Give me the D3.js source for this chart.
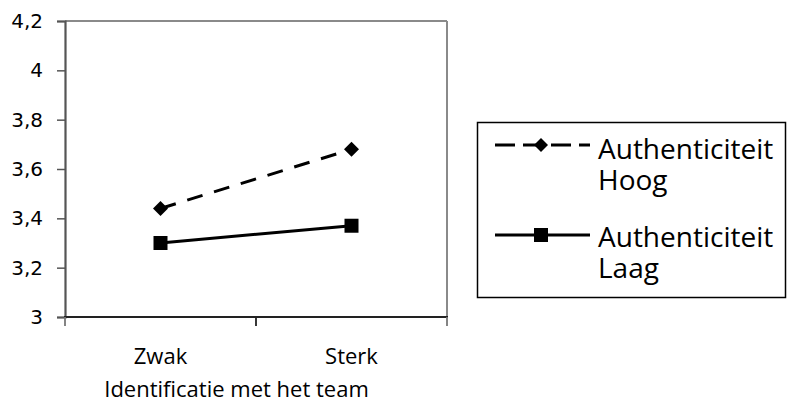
<!DOCTYPE html>
<html>
<head>
<meta charset="utf-8">
<script src="https://cdn.jsdelivr.net/npm/d3@7"></script>
<style>
  html, body { margin: 0; padding: 0; background: #fff; }
  svg { display: block; }
</style>
</head>
<body>
<svg id="chart" width="787" height="404"></svg>
<script>
// Categories on the x axis and the two series (mean scores)
const categories = ["Zwak", "Sterk"];
const hoogValues = [3.44, 3.68];
const laagValues = [3.30, 3.37];
const seriesNames = [["Authenticiteit", "Hoog"], ["Authenticiteit", "Laag"]];
const yTickValues = [3, 3.2, 3.4, 3.6, 3.8, 4, 4.2];
const xTitle = "Identificatie met het team";

const svg = d3.select("#chart");
const plot = { left: 65, right: 447, top: 21, bottom: 317 };

const x = d3.scaleBand().domain(categories).range([plot.left, plot.right]).padding(0);
const y = d3.scaleLinear().domain([3, 4.2]).range([plot.bottom, plot.top]);

const nl = d3.formatLocale({ decimal: ",", thousands: ".", grouping: [3], currency: ["€", ""] });
const fmt = v => nl.format("~g")(+v.toFixed(1));

// Plot frame: grey top/right, darker left axis and bottom axis
svg.append("line").attr("x1", plot.left).attr("x2", plot.right).attr("y1", plot.top).attr("y2", plot.top)
  .attr("stroke", "#8a8a8a").attr("stroke-width", 2);
svg.append("line").attr("x1", plot.right).attr("x2", plot.right).attr("y1", plot.top).attr("y2", plot.bottom)
  .attr("stroke", "#8a8a8a").attr("stroke-width", 2);

// Y axis
const yAxis = d3.axisLeft(y).tickValues(yTickValues).tickSize(8).tickPadding(14).tickFormat(fmt);
const gy = svg.append("g").attr("transform", `translate(${plot.left},0)`).call(yAxis);
gy.select(".domain").attr("stroke", "#555").attr("stroke-width", 2.2);
gy.selectAll(".tick line").attr("stroke", "#555").attr("stroke-width", 1.5);
gy.selectAll(".tick text").attr("font-family", "'DejaVu Sans', Verdana, sans-serif")
  .attr("font-size", 20).attr("fill", "#000");

// X axis: ticks on category boundaries
const boundaries = [plot.left, plot.left + x.bandwidth(), plot.right];
svg.append("line").attr("x1", plot.left - 1).attr("x2", plot.right + 1).attr("y1", plot.bottom).attr("y2", plot.bottom)
  .attr("stroke", "#222").attr("stroke-width", 2);
svg.selectAll(".xtick").data(boundaries).enter().append("line")
  .attr("x1", d => d).attr("x2", d => d).attr("y1", plot.bottom).attr("y2", plot.bottom + 9)
  .attr("stroke", (d, i) => i === 1 ? "#222" : "#777").attr("stroke-width", 1.8);

const labelFont = "'Open Sans', 'Noto Sans', sans-serif";
svg.selectAll(".xlabel").data(categories).enter().append("text")
  .attr("x", d => x(d) + x.bandwidth() / 2).attr("y", 364)
  .attr("text-anchor", "middle").attr("font-family", labelFont).attr("font-size", 22)
  .text(d => d);
svg.append("text").attr("x", 236.5).attr("y", 397).attr("text-anchor", "middle")
  .attr("font-family", labelFont).attr("font-size", 22).text(xTitle);

// Series lines
const line = d3.line().x((d, i) => x(categories[i]) + x.bandwidth() / 2).y(d => y(d));
svg.append("path").datum(hoogValues).attr("d", line).attr("fill", "none")
  .attr("stroke", "#000").attr("stroke-width", 3).attr("stroke-dasharray", "16,12");
svg.append("path").datum(laagValues).attr("d", line).attr("fill", "none")
  .attr("stroke", "#000").attr("stroke-width", 3);

const diamond = (cx, cy, r) => `M${cx},${cy - r}L${cx + r},${cy}L${cx},${cy + r}L${cx - r},${cy}Z`;
svg.selectAll(".mh").data(hoogValues).enter().append("path")
  .attr("d", (d, i) => diamond(x(categories[i]) + x.bandwidth() / 2, y(d), 7.5)).attr("fill", "#000");
const sq = 14;
svg.selectAll(".ml").data(laagValues).enter().append("rect")
  .attr("x", (d, i) => x(categories[i]) + x.bandwidth() / 2 - sq / 2).attr("y", d => y(d) - sq / 2)
  .attr("width", sq).attr("height", sq).attr("fill", "#000");

// Legend
const legend = svg.append("g");
legend.append("rect").attr("x", 477.5).attr("y", 122.5).attr("width", 308).attr("height", 175)
  .attr("fill", "#fff").attr("stroke", "#000").attr("stroke-width", 1.5);
const entries = [
  { y: 145, dash: "20,8", marker: "diamond", name: seriesNames[0], base: 159 },
  { y: 235, dash: null, marker: "square", name: seriesNames[1], base: 247 }
];
entries.forEach(e => {
  legend.append("line").attr("x1", 495).attr("x2", 590).attr("y1", e.y).attr("y2", e.y)
    .attr("stroke", "#000").attr("stroke-width", 3).attr("stroke-dasharray", e.dash);
  if (e.marker === "diamond") {
    legend.append("path").attr("d", diamond(541, e.y, 7)).attr("fill", "#000");
  } else {
    legend.append("rect").attr("x", 534).attr("y", e.y - 7).attr("width", 14).attr("height", 14).attr("fill", "#000");
  }
  const t = legend.append("text").attr("x", 598).attr("y", e.base)
    .attr("font-family", labelFont).attr("font-size", 28).attr("fill", "#000");
  e.name.forEach((s, i) => t.append("tspan").attr("x", 598).attr("dy", i === 0 ? 0 : 31).text(s));
});
</script>
</body>
</html>
